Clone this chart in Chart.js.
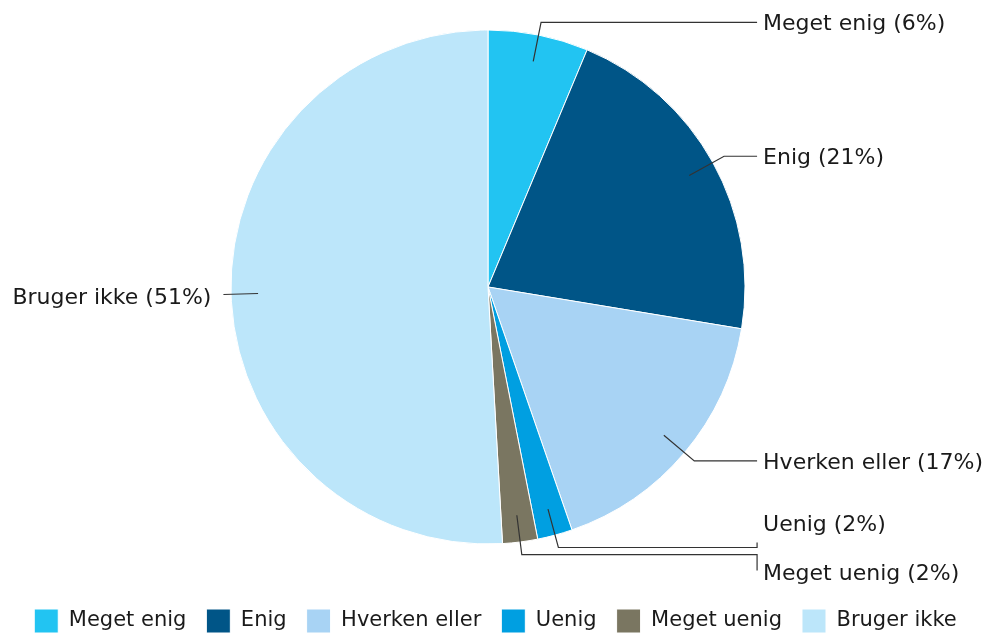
<!DOCTYPE html>
<html>
<head>
<meta charset="utf-8">
<script src="https://cdn.jsdelivr.net/npm/chart.js@4/dist/chart.umd.min.js"></script>
<style>
  html, body { margin: 0; padding: 0; background: #ffffff; }
  #wrap { width: 986px; height: 635px; position: relative; }
</style>
</head>
<body>
<div id="wrap"><canvas id="chart"></canvas></div>
<script>
// Survey answers (share of respondents, %)
const categories = ['Meget enig', 'Enig', 'Hverken eller', 'Uenig', 'Meget uenig', 'Bruger ikke'];
const shares = [6.3, 21.3, 17.1, 2.2, 2.2, 50.9];
const sliceColors = ['#22c4f2', '#005587', '#a8d3f4', '#009fe1', '#7a7661', '#bce6fa'];

const FONT = '"DejaVu Sans", Verdana, sans-serif';

// Nudge the legend row down/right under the pie
const legendShift = {
  id: 'legendShift',
  afterLayout(chart) {
    const lg = chart.legend;
    if (!lg) return;
    lg.left += 7.5; lg.right += 7.5;
    lg.top += 15; lg.bottom += 15;
  }
};

// Outside labels with leader lines
const calloutPlugin = {
  id: 'callouts',
  afterDatasetsDraw(chart) {
    const ctx = chart.ctx;
    const meta = chart.getDatasetMeta(0);
    const total = shares.reduce((a, b) => a + b, 0);

    const items = meta.data.map((arc, i) => {
      const p = arc.getProps(['x', 'y', 'startAngle', 'endAngle', 'outerRadius'], true);
      const mid = (p.startAngle + p.endAngle) / 2;
      const c = Math.cos(mid), s = Math.sin(mid);
      const right = c >= 0;
      const R = p.outerRadius;
      const inner = { x: p.x + c * R * 0.895, y: p.y + s * R * 0.895 };
      const er = R * (right ? 1.05 : 1.03);
      const elbow = { x: p.x + c * er, y: p.y + s * er };
      return {
        right, inner, elbow, cx: p.x, R,
        labelY: elbow.y,
        text: categories[i] + ' (' + Math.round(shares[i] / total * 100) + '%)'
      };
    });

    // keep right-hand labels from overlapping
    const minGap = 49;
    const rightItems = items.filter(d => d.right).sort((a, b) => a.elbow.y - b.elbow.y);
    for (let k = 1; k < rightItems.length; k++) {
      const a = rightItems[k - 1], b = rightItems[k];
      if (b.labelY - a.labelY < minGap) {
        const m = (a.labelY + b.labelY) / 2 - 3;
        a.labelY = m - minGap / 2;
        b.labelY = m + minGap / 2;
      }
    }

    ctx.save();
    ctx.strokeStyle = '#333333';
    ctx.lineWidth = 1.2;
    ctx.fillStyle = '#1a1a1a';
    ctx.font = '22px ' + FONT;
    ctx.textBaseline = 'middle';
    items.forEach(d => {
      ctx.beginPath();
      ctx.moveTo(d.inner.x, d.inner.y);
      ctx.lineTo(d.elbow.x, d.elbow.y);
      if (d.right) {
        const endX = d.cx + d.R * 1.047;
        ctx.lineTo(endX, d.elbow.y);
        if (Math.abs(d.labelY - d.elbow.y) > 0.5) {
          const endY = d.labelY < d.elbow.y ? d.labelY + 19 : d.labelY - 2;
          ctx.lineTo(endX, endY);
        }
        ctx.stroke();
        ctx.textAlign = 'left';
        ctx.fillText(d.text, endX + 6, d.labelY + 2);
      } else {
        ctx.stroke();
        ctx.textAlign = 'right';
        ctx.fillText(d.text, d.elbow.x - 12, d.labelY + 4);
      }
    });
    ctx.restore();
  }
};

new Chart(document.getElementById('chart'), {
  type: 'pie',
  data: {
    labels: categories,
    datasets: [{
      data: shares,
      backgroundColor: sliceColors,
      borderColor: '#ffffff',
      borderWidth: 1,
      radius: 257
    }]
  },
  options: {
    responsive: true,
    maintainAspectRatio: false,
    animation: false,
    layout: { padding: { top: 0, bottom: 7, left: 0, right: 10 } },
    plugins: {
      tooltip: { enabled: false },
      legend: {
        position: 'bottom',
        align: 'center',
        labels: {
          boxWidth: 24,
          boxHeight: 24,
          padding: 20,
          color: '#1a1a1a',
          font: { family: FONT, size: 21 }
        }
      }
    }
  },
  plugins: [legendShift, calloutPlugin]
});
</script>
</body>
</html>
